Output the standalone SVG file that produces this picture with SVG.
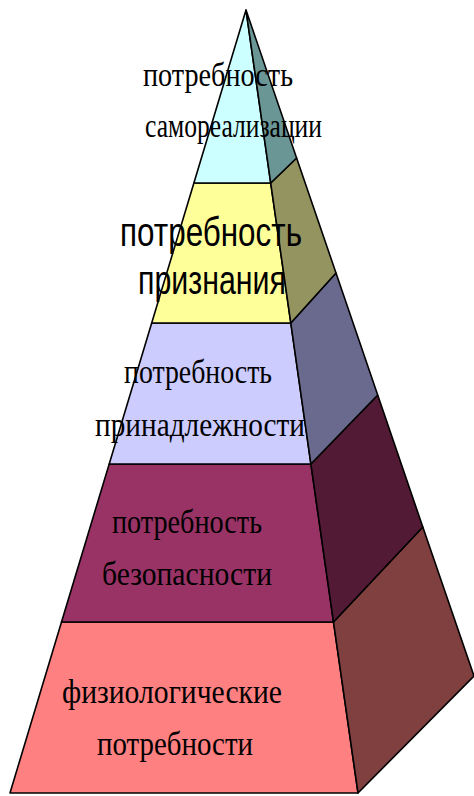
<svg xmlns="http://www.w3.org/2000/svg" width="474" height="796" viewBox="0 0 474 796">
<style>
.f{stroke:#000;stroke-width:1.6;stroke-linejoin:round}
.s{font-family:"Liberation Serif","Times New Roman",serif;font-size:34px;fill:#000}
.a{font-family:"Liberation Sans",Arial,sans-serif;font-size:41px;fill:#000}
</style>
<rect width="474" height="796" fill="#fff"/>
<g id="tier5">
<polygon class="f" points="61.5,622 333.5,622 358,793 10,793" fill="#ff8080"/>
<polygon class="f" points="333.5,622 422.8,527 474,676 358,793" fill="#804040"/>
</g>
<g id="tier4">
<polygon class="f" points="109.2,464 310.9,464 333.5,622 61.5,622" fill="#993366"/>
<polygon class="f" points="310.9,464 377.7,395 422.8,527 333.5,622" fill="#521a35"/>
</g>
<g id="tier3">
<polygon class="f" points="151.7,323 290.8,323 310.9,464 109.2,464" fill="#ccccff"/>
<polygon class="f" points="290.8,323 336,273 377.7,395 310.9,464" fill="#6a6a8e"/>
</g>
<g id="tier2">
<polygon class="f" points="193.9,183 270.7,183 290.8,323 151.7,323" fill="#ffff99"/>
<polygon class="f" points="270.7,183 296.6,158 336,273 290.8,323" fill="#949461"/>
</g>
<g id="tier1">
<polygon class="f" points="246,10 270.7,183 193.9,183" fill="#ccffff"/>
<polygon class="f" points="246,10 296.6,158 270.7,183" fill="#6a9696"/>
</g>
<g id="labels">
<text class="s" x="143" y="86" textLength="150" lengthAdjust="spacingAndGlyphs">потребность</text>
<text class="s" x="145" y="137" textLength="177" lengthAdjust="spacingAndGlyphs">самореализации</text>
<text class="a" x="120" y="246" textLength="182" lengthAdjust="spacingAndGlyphs">потребность</text>
<text class="a" x="138" y="294" textLength="148" lengthAdjust="spacingAndGlyphs">признания</text>
<text class="s" x="124" y="383" textLength="148" lengthAdjust="spacingAndGlyphs">потребность</text>
<text class="s" x="95" y="436" textLength="210" lengthAdjust="spacingAndGlyphs">принадлежности</text>
<text class="s" x="112" y="533" textLength="150" lengthAdjust="spacingAndGlyphs">потребность</text>
<text class="s" x="102" y="585" textLength="170" lengthAdjust="spacingAndGlyphs">безопасности</text>
<text class="s" x="62" y="703" textLength="220" lengthAdjust="spacingAndGlyphs">физиологические</text>
<text class="s" x="97" y="755" textLength="156" lengthAdjust="spacingAndGlyphs">потребности</text>
</g>
</svg>
